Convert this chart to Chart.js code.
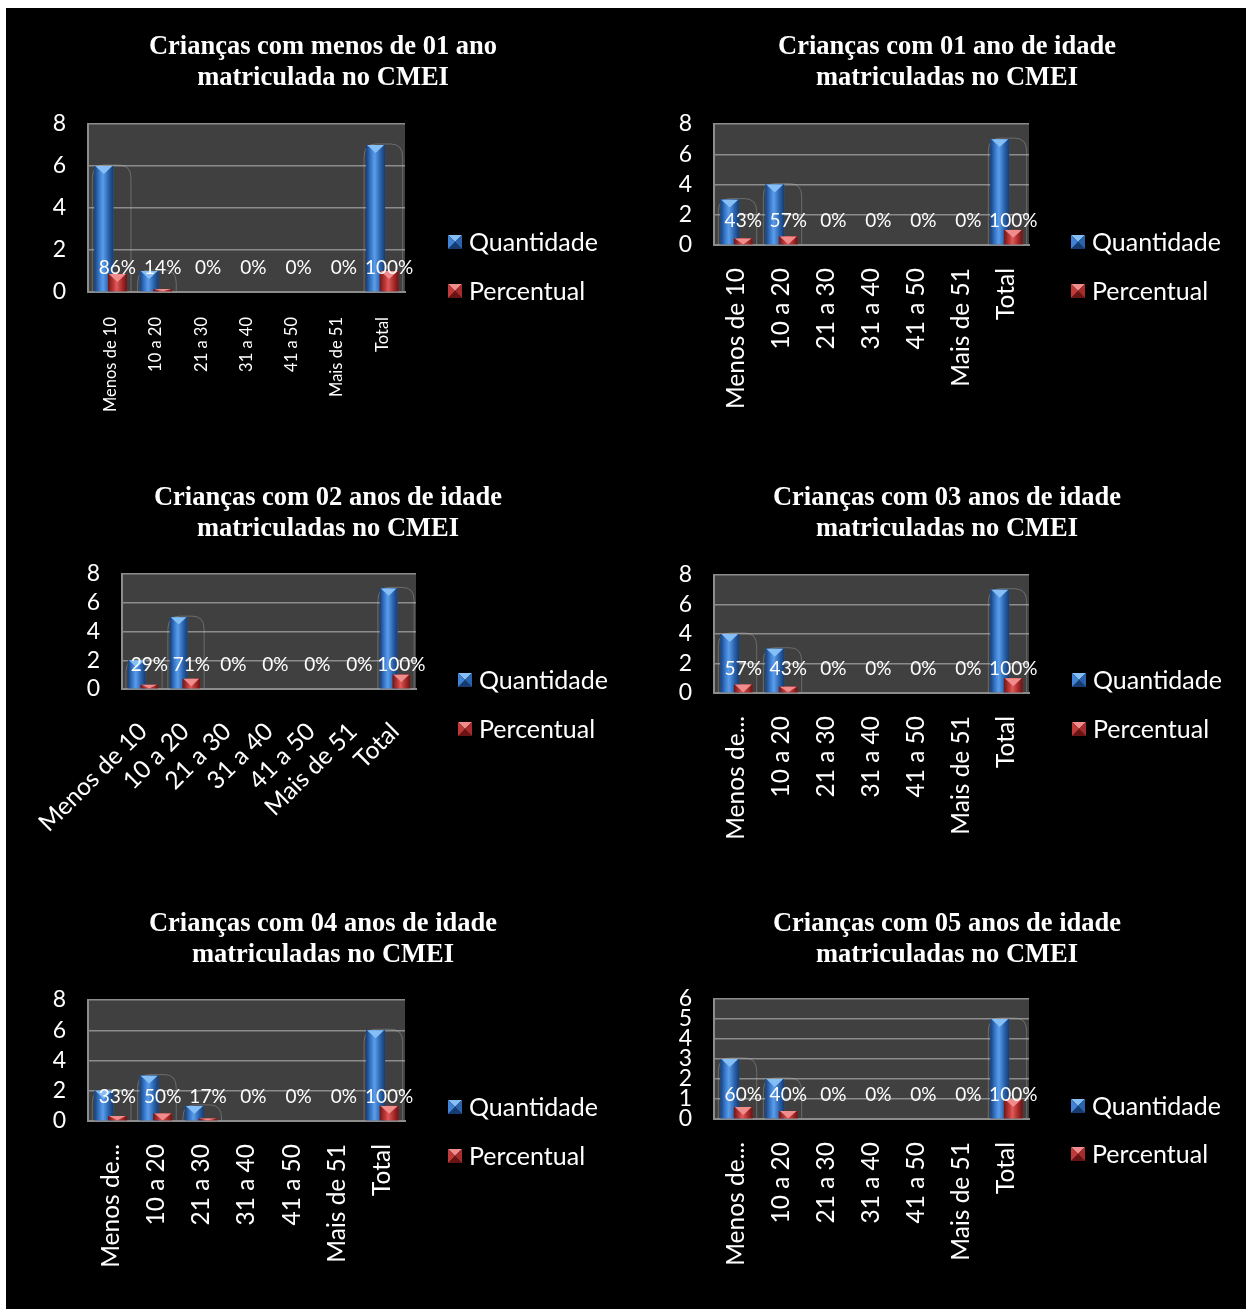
<!DOCTYPE html>
<html>
<head>
<meta charset="utf-8">
<script src="https://cdn.jsdelivr.net/npm/chart.js@4.4.1/dist/chart.umd.min.js"></script>
<style>
  body { margin: 0; background: #fff; width: 1246px; height: 1309px; position: relative; overflow: hidden; }
  #bg { position: absolute; left: 6px; top: 8px; width: 1240px; height: 1301px; background: #000; }
  .box { position: absolute; }
  .title {
    position: absolute; width: 600px; text-align: center; color: #fff;
    font-family: "Liberation Serif", "DejaVu Serif", serif; font-weight: bold;
    font-size: 26.5px; line-height: 31px; white-space: nowrap; z-index: 2;
  }
</style>
</head>
<body>
<div id="bg"></div>

<script>
// categorias do eixo x
const categories = ['Menos de 10', '10 a 20', '21 a 30', '31 a 40', '41 a 50', 'Mais de 51', 'Total'];
const seriesNames = ['Quantidade', 'Percentual'];

// quantidade por gráfico
const qty1 = [6, 1, 0, 0, 0, 0, 7];
const qty2 = [3, 4, 0, 0, 0, 0, 7];
const qty3 = [2, 5, 0, 0, 0, 0, 7];
const qty4 = [4, 3, 0, 0, 0, 0, 7];
const qty5 = [2, 3, 1, 0, 0, 0, 6];
const qty6 = [3, 2, 0, 0, 0, 0, 5];

// percentual por gráfico
const pct1 = [0.86, 0.14, 0, 0, 0, 0, 1];
const pct2 = [0.43, 0.57, 0, 0, 0, 0, 1];
const pct3 = [0.29, 0.71, 0, 0, 0, 0, 1];
const pct4 = [0.57, 0.43, 0, 0, 0, 0, 1];
const pct5 = [0.33, 0.50, 0.17, 0, 0, 0, 1];
const pct6 = [0.60, 0.40, 0, 0, 0, 0, 1];

const titles = [
  ['Crianças com menos de 01 ano', 'matriculada no CMEI'],
  ['Crianças com 01 ano de idade', 'matriculadas no CMEI'],
  ['Crianças com 02 anos de idade', 'matriculadas no CMEI'],
  ['Crianças com 03 anos de idade', 'matriculadas no CMEI'],
  ['Crianças com 04 anos de idade', 'matriculadas no CMEI'],
  ['Crianças com 05 anos de idade', 'matriculadas no CMEI']
];

// layout of each chart (page pixels)
const charts = [
  { qty: qty1, pct: pct1, yMax: 8, yStep: 2, box: [10, 70, 620, 360], plot: [88, 124, 405, 292], rot: 90, xFont: 16.5, xPad: 17, truncate: false, titleAt: [323, 45], legend: [448, 242, 291] },
  { qty: qty2, pct: pct2, yMax: 8, yStep: 2, box: [634, 70, 606, 360], plot: [714, 124, 1029, 245], rot: 90, xFont: 24.5, xPad: 15, truncate: false, titleAt: [947, 45], legend: [1071, 242, 291] },
  { qty: qty3, pct: pct3, yMax: 8, yStep: 2, box: [10, 520, 620, 330], plot: [122, 574, 416, 689], rot: 45, xFont: 24.5, xPad: 20, truncate: false, titleAt: [328, 496], legend: [458, 680, 729] },
  { qty: qty4, pct: pct4, yMax: 8, yStep: 2, box: [634, 520, 606, 330], plot: [714, 575, 1029, 693], rot: 90, xFont: 24.5, xPad: 15, truncate: true, titleAt: [947, 496], legend: [1072, 680, 729] },
  { qty: qty5, pct: pct5, yMax: 8, yStep: 2, box: [10, 945, 620, 330], plot: [88, 1000, 405, 1121], rot: 90, xFont: 24.5, xPad: 15, truncate: true, titleAt: [323, 922], legend: [448, 1107, 1156] },
  { qty: qty6, pct: pct6, yMax: 6, yStep: 1, box: [634, 945, 606, 330], plot: [714, 999, 1029, 1119], rot: 90, xFont: 24.5, xPad: 15, truncate: true, titleAt: [947, 922], legend: [1071, 1106, 1154] }
];

const palette = {
  blue: { base: '#2f6fc0', stops: ['#173f78', '#3f82d6', '#5b9de9', '#2a63ad', '#163b70'], cap: '#86bff5' },
  red:  { base: '#b83232', stops: ['#6e1616', '#c03a3a', '#e05a5a', '#a82a2a', '#681414'], cap: '#f08c8c' }
};

Chart.defaults.font.family = 'Lato, "Open Sans", sans-serif';
Chart.defaults.color = '#fff';

// fundo cinza da área do gráfico
const plotBg = {
  id: 'plotBg',
  beforeDraw(chart) {
    const { ctx, chartArea: a } = chart;
    ctx.save();
    ctx.fillStyle = '#404040';
    ctx.fillRect(a.left, a.top, a.width, a.height);
    ctx.restore();
  }
};

// faint cylinder outlines behind each bar pair
const outlines = {
  id: 'outlines',
  beforeDatasetsDraw(chart) {
    const ctx = chart.ctx;
    const blue = chart.getDatasetMeta(0).data;
    const red = chart.getDatasetMeta(1).data;
    ctx.save();
    ctx.strokeStyle = 'rgba(190,190,190,0.35)';
    ctx.lineWidth = 1;
    blue.forEach((b, i) => {
      const p = b.getProps(['x', 'y', 'base', 'width'], true);
      if (p.base - p.y < 1) return;
      const r = red[i].getProps(['x', 'width'], true);
      const l = p.x - p.width / 2 - 2;
      const rt = r.x + r.width / 2 + 4;
      const rad = Math.min(12, p.base - p.y);
      ctx.beginPath();
      ctx.moveTo(l, p.base);
      ctx.lineTo(l, p.y + rad);
      ctx.quadraticCurveTo(l, p.y - 1, l + rad, p.y - 1);
      ctx.lineTo(rt - rad, p.y - 1);
      ctx.quadraticCurveTo(rt, p.y - 1, rt, p.y + rad);
      ctx.lineTo(rt, p.base);
      ctx.stroke();
    });
    ctx.restore();
  }
};

// shaded bodies and pyramid caps on top of the library's bars
const bars3d = {
  id: 'bars3d',
  afterDatasetsDraw(chart) {
    const ctx = chart.ctx;
    [palette.blue, palette.red].forEach((pal, di) => {
      chart.getDatasetMeta(di).data.forEach(bar => {
        const { x, y, base, width } = bar.getProps(['x', 'y', 'base', 'width'], true);
        const h = base - y;
        if (h <= 0.5) return;
        const l = x - width / 2;
        const g = ctx.createLinearGradient(l, 0, l + width, 0);
        g.addColorStop(0, pal.stops[0]);
        g.addColorStop(0.3, pal.stops[1]);
        g.addColorStop(0.45, pal.stops[2]);
        g.addColorStop(0.75, pal.stops[3]);
        g.addColorStop(1, pal.stops[4]);
        ctx.save();
        ctx.fillStyle = g;
        ctx.fillRect(l, y, width, h);
        const capH = Math.min(width * 0.42, h);
        ctx.beginPath();
        ctx.moveTo(l + 1, y);
        ctx.lineTo(l + width - 1, y);
        ctx.lineTo(x, y + capH);
        ctx.closePath();
        ctx.fillStyle = pal.cap;
        ctx.fill();
        ctx.restore();
      });
    });
  }
};

// rótulos de percentual
const pctLabels = {
  id: 'pctLabels',
  afterDatasetsDraw(chart, args, opts) {
    const ctx = chart.ctx;
    const base = chart.scales.y.getPixelForValue(0);
    const ds = chart.data.datasets[1];
    ctx.save();
    ctx.fillStyle = '#fff';
    ctx.font = '19px Lato, "Open Sans", sans-serif';
    ctx.textAlign = 'center';
    ctx.textBaseline = 'middle';
    chart.getDatasetMeta(1).data.forEach((bar, i) => {
      ctx.fillText(Math.round(ds.data[i] * 100) + '%', bar.x, base - opts.offset);
    });
    ctx.restore();
  }
};

// legenda lateral
const sideLegend = {
  id: 'sideLegend',
  afterDraw(chart, args, opts) {
    const ctx = chart.ctx;
    const pals = [palette.blue, palette.red];
    ctx.save();
    ctx.font = '25px Lato, "Open Sans", sans-serif';
    ctx.textBaseline = 'middle';
    ctx.textAlign = 'left';
    chart.data.datasets.forEach((ds, i) => {
      const x = opts.x, y = opts.ys[i], s = 14;
      const t = y - s / 2, pal = pals[i];
      const tri = (pts, col) => {
        ctx.beginPath();
        ctx.moveTo(pts[0], pts[1]); ctx.lineTo(pts[2], pts[3]); ctx.lineTo(x + s / 2, t + s / 2);
        ctx.closePath(); ctx.fillStyle = col; ctx.fill();
      };
      tri([x, t, x + s, t], pal.cap);
      tri([x, t + s, x + s, t + s], pal.stops[4]);
      tri([x, t, x, t + s], pal.stops[1]);
      tri([x + s, t, x + s, t + s], pal.stops[3]);
      ctx.fillStyle = '#fff';
      ctx.fillText(ds.label, x + s + 7, y + 1);
    });
    ctx.restore();
  }
};

charts.forEach((c, k) => {
  const [X0, Y0, W, H] = c.box;
  const [L, T, R, B] = c.plot;

  const wrap = document.createElement('div');
  wrap.className = 'box';
  wrap.style.left = X0 + 'px';
  wrap.style.top = Y0 + 'px';
  wrap.style.width = W + 'px';
  wrap.style.height = H + 'px';
  const canvas = document.createElement('canvas');
  wrap.appendChild(canvas);
  document.body.appendChild(wrap);

  const title = document.createElement('div');
  title.className = 'title';
  title.style.left = (c.titleAt[0] - 300) + 'px';
  title.style.top = (c.titleAt[1] - 15.5) + 'px';
  title.innerHTML = titles[k][0] + '<br>' + titles[k][1];
  document.body.appendChild(title);

  new Chart(canvas, {
    type: 'bar',
    data: {
      labels: categories,
      datasets: [
        { label: seriesNames[0], data: c.qty, backgroundColor: palette.blue.base },
        { label: seriesNames[1], data: c.pct, backgroundColor: palette.red.base }
      ]
    },
    options: {
      responsive: true,
      maintainAspectRatio: false,
      animation: false,
      categoryPercentage: 0.6,
      barPercentage: 1.4,
      layout: { padding: { left: 0, top: T - Y0, right: X0 + W - R, bottom: 0 } },
      plugins: {
        legend: { display: false },
        title: { display: false },
        tooltip: { enabled: false },
        pctLabels: { offset: 24 },
        sideLegend: { x: c.legend[0] - X0, ys: [c.legend[1] - Y0, c.legend[2] - Y0] }
      },
      scales: {
        x: {
          grid: { display: false },
          border: { display: true, color: '#8c8c8c', width: 2 },
          ticks: {
            autoSkip: false,
            minRotation: c.rot,
            maxRotation: c.rot,
            padding: c.xPad,
            font: { size: c.xFont },
            color: '#fff',
            callback(v) {
              const s = this.getLabelForValue(v);
              return c.truncate && s.length > 10 ? s.slice(0, 8) + '...' : s;
            }
          },
          afterFit(s) { s.height = Y0 + H - B; }
        },
        y: {
          min: 0,
          max: c.yMax,
          grid: { color: '#8c8c8c', lineWidth: 1.5, drawTicks: false },
          border: { display: true, color: '#8c8c8c', width: 2 },
          ticks: { stepSize: c.yStep, autoSkip: false, padding: 22, font: { size: 23 }, color: '#fff' },
          afterFit(s) { s.width = L - X0; }
        }
      }
    },
    plugins: [plotBg, outlines, bars3d, pctLabels, sideLegend]
  });
});
</script>
</body>
</html>
